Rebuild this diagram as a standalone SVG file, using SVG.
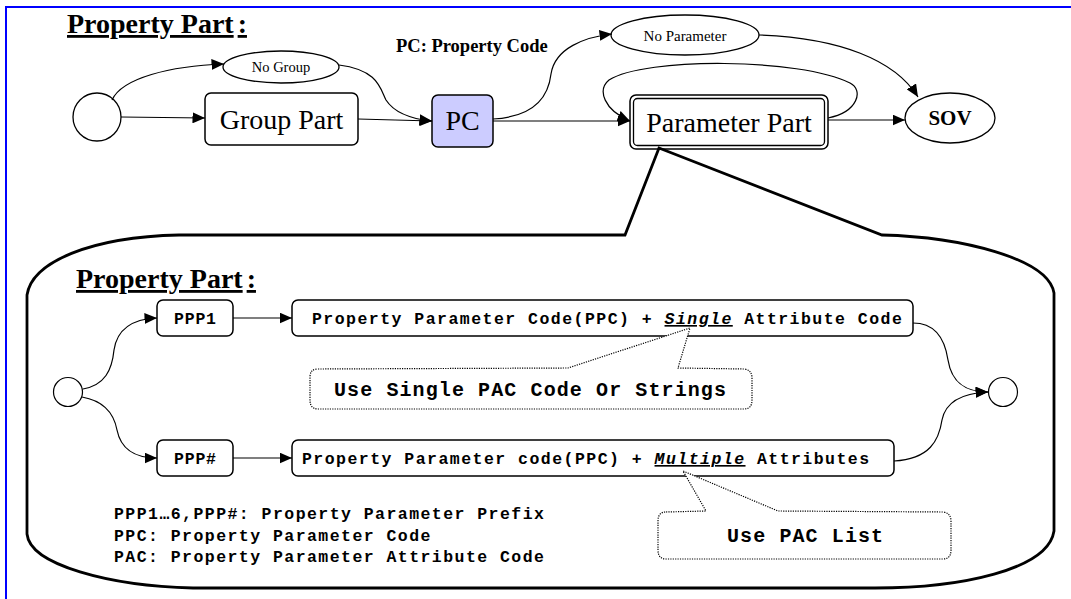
<svg xmlns="http://www.w3.org/2000/svg" width="1071" height="599" viewBox="0 0 1071 599">
<defs>
<marker id="arr" markerUnits="userSpaceOnUse" markerWidth="13" markerHeight="11" refX="12.5" refY="5.5" orient="auto">
<path d="M0,0 L12.5,5.5 L0,11 Z" fill="#000"/>
</marker>
<style>
.frame{stroke:#0000ff;stroke-width:2;fill:none}
.box{fill:#fff;stroke:#000;stroke-width:1.5}
.conn{fill:none;stroke:#000;stroke-width:1.2;marker-end:url(#arr)}
.serif{font-family:"Liberation Serif","Times New Roman",serif;fill:#000}
.title{font-size:28px;font-weight:bold;text-decoration:underline}
.big{font-size:28px}
.mono{font-family:"Liberation Mono","Courier New",monospace;font-weight:bold;fill:#000}
.m16{font-size:16.5px;letter-spacing:1.47px}
.leg{font-size:16.5px;letter-spacing:1.45px}
.m20{font-size:20px;letter-spacing:1.1px}
.dotted{fill:#fff;stroke:#000;stroke-width:1.2;stroke-dasharray:1.2 1.2}
.bubble{fill:#fff;stroke:#000;stroke-width:2.8;stroke-linejoin:miter}
</style>
</defs>
<rect width="1071" height="599" fill="#fff"/>
<path class="frame" d="M6,599 L6,7 L1071,7"/>

<text class="serif title" x="67" y="33">Property Part<tspan dx="4">:</tspan></text>
<text class="serif" x="396" y="52" font-size="18.5" font-weight="bold">PC: Property Code</text>

<g id="start">
<circle cx="97" cy="117" r="24" fill="#fff" stroke="#000" stroke-width="1.3"/>
</g>
<g id="nogroup">
<ellipse cx="281" cy="67" rx="58" ry="16" fill="#fff" stroke="#000" stroke-width="1.3"/>
<text class="serif" x="281" y="72" font-size="14.5" text-anchor="middle">No Group</text>
</g>
<g id="grouppart">
<rect class="box" x="205" y="93" width="153" height="52" rx="6"/>
<text class="serif big" x="281.5" y="129" text-anchor="middle">Group Part</text>
</g>
<g id="pc">
<rect class="box" x="432" y="95" width="61" height="52" rx="6" style="fill:#ccccff"/>
<text class="serif big" x="462.5" y="130" text-anchor="middle">PC</text>
</g>
<g id="noparam">
<ellipse cx="685" cy="35" rx="74" ry="20" fill="#fff" stroke="#000" stroke-width="1.3"/>
<text class="serif" x="685" y="41" font-size="15" text-anchor="middle">No Parameter</text>
</g>
<g id="parampart">
<rect class="box" x="630" y="95" width="198" height="54" rx="6"/>
<rect x="633.5" y="98.5" width="191" height="47" rx="4" fill="none" stroke="#000" stroke-width="1.3"/>
<text class="serif big" x="729" y="132" text-anchor="middle">Parameter Part</text>
</g>
<g id="sov">
<ellipse cx="950" cy="118" rx="45" ry="25" fill="#fff" stroke="#000" stroke-width="1.3"/>
<text class="serif" x="950" y="125" font-size="21" font-weight="bold" text-anchor="middle">SOV</text>
</g>

<g id="callout">
<path class="bubble" d="M625,235 L179,235 C90,237 32,262 27,295 L27,534 C30,565 110,586 193,588 L875,588 C960,588 1048,570 1054,531 L1054,293 C1048,258 960,237 882,235 L659,148 Z"/>
</g>

<g id="connectors">
<path class="conn" d="M121,117 L205,118"/>
<path class="conn" d="M112,100 C122,78 170,66 224,64"/>
<path class="conn" d="M339,65 C378,70 380,88 386,100 C395,114 412,119 432,121"/>
<path class="conn" d="M358,119 L432,121"/>
<path class="conn" d="M493,121 L630,121"/>
<path class="conn" d="M493,119 C530,117 548,100 551,74 C555,48 585,37 612,34"/>
<path class="conn" d="M759,35 C840,38 895,60 918,97"/>
<path class="conn" d="M828,120 L905,120"/>
<path class="conn" d="M828,118 C858,112 864,90 850,83 C800,58 645,57 609,80 C597,90 604,110 630,121"/>
<path class="conn" d="M83,389 C105,385 112,370 114,350 C117,330 132,319 157,318"/>
<path class="conn" d="M82,397 C105,401 114,414 117,430 C121,450 135,458 157,458"/>
<path class="conn" d="M233,318 L292,318"/>
<path class="conn" d="M233,458 L292,458"/>
<path class="conn" d="M913,323 C936,323 945,340 948,360 C952,385 968,392 988,392"/>
<path class="conn" d="M894,461 C930,459 939,440 942,420 C946,400 965,393 988,392"/>
</g>

<text class="serif title" x="76" y="288">Property Part<tspan dx="4">:</tspan></text>

<g id="start2">
<circle cx="68" cy="392" r="14.5" fill="#fff" stroke="#000" stroke-width="1.2"/>
</g>
<g id="end2">
<circle cx="1003" cy="392" r="14.5" fill="#fff" stroke="#000" stroke-width="1.2"/>
</g>
<g id="ppp1">
<rect class="box" x="157" y="300" width="76" height="36" rx="6"/>
<text class="mono" x="174" y="324" font-size="16.5" letter-spacing="0.8">PPP1</text>
</g>
<g id="ppph">
<rect class="box" x="157" y="440" width="76" height="36" rx="6"/>
<text class="mono" x="174" y="464" font-size="16.5" letter-spacing="0.8">PPP#</text>
</g>
<g id="box1">
<rect class="box" x="292" y="300" width="621" height="36" rx="6"/>
<text class="mono m16" x="312" y="324">Property Parameter Code(PPC) + <tspan font-style="italic" text-decoration="underline">Single</tspan> Attribute Code</text>
</g>
<g id="box2">
<rect class="box" x="292" y="440" width="602" height="36" rx="6"/>
<text class="mono m16" x="302" y="464">Property Parameter code(PPC) + <tspan font-style="italic" text-decoration="underline">Multiple</tspan> Attributes</text>
</g>
<g id="note1">
<path class="dotted" d="M318,369 L568,368 L690,328 L678,368 L744,369 Q752,370 752,378 L752,400 Q752,409 744,409 L318,409 Q310,409 310,400 L310,377 Q310,369 318,369 Z"/>
<text class="mono m20" x="334" y="396">Use Single PAC Code Or Strings</text>
</g>
<g id="note2">
<path class="dotted" d="M666,512 L706,511 L683,471 L778,511 L943,512 Q951,513 951,521 L951,550 Q951,559 943,559 L666,559 Q658,559 658,550 L658,521 Q658,512 666,512 Z"/>
<text class="mono m20" x="727" y="542">Use PAC List</text>
</g>

<g id="legend">
<text class="mono leg" x="114" y="519">PPP1…6,PPP#: Property Parameter Prefix</text>
<text class="mono leg" x="114" y="541">PPC: Property Parameter Code</text>
<text class="mono leg" x="114" y="562">PAC: Property Parameter Attribute Code</text>
</g>
</svg>
